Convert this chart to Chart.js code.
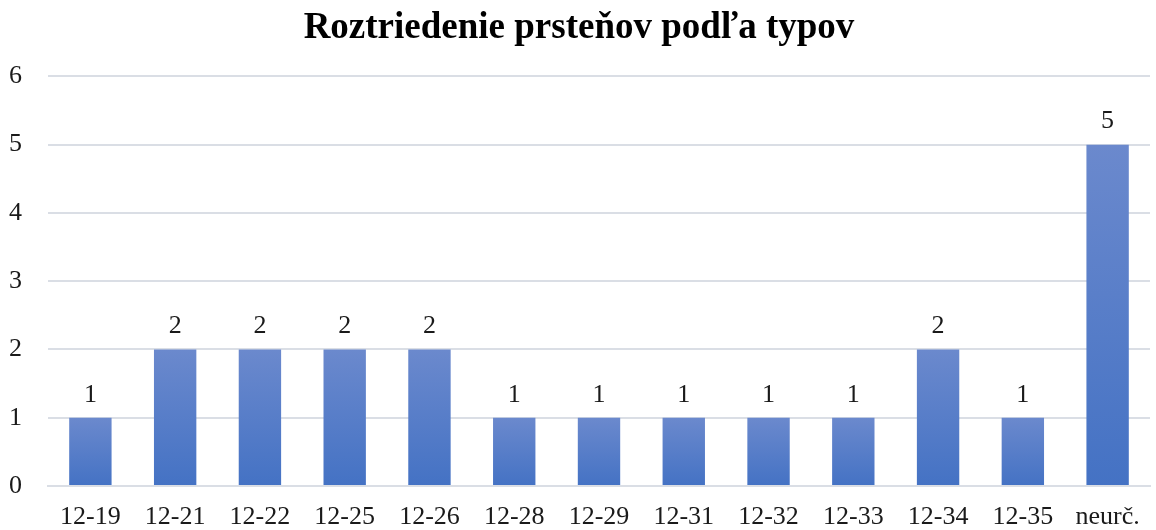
<!DOCTYPE html>
<html>
<head>
<meta charset="utf-8">
<script src="https://cdn.jsdelivr.net/npm/chart.js@4"></script>
<style>
  body { margin: 0; background: #fff; }
  #wrap { width: 1156px; height: 530px; }
</style>
</head>
<body>
<div id="wrap"><canvas id="bar-chart"></canvas></div>
<script>
const labels = ['12-19', '12-21', '12-22', '12-25', '12-26', '12-28', '12-29', '12-31', '12-32', '12-33', '12-34', '12-35', 'neurč.'];
const counts = [1, 2, 2, 2, 2, 1, 1, 1, 1, 1, 2, 1, 5];
const yTicks = [0, 1, 2, 3, 4, 5, 6];

const serif = "'Liberation Serif', 'Times New Roman', serif";

// gradient per bar, lighter on top
function barFill(ctx) {
  const chart = ctx.chart;
  const y = chart.scales.y;
  if (!y || ctx.dataIndex === undefined) return '#4472c4';
  const top = y.getPixelForValue(counts[ctx.dataIndex]);
  const bottom = y.getPixelForValue(0);
  if (!isFinite(top) || !isFinite(bottom)) return '#4472c4';
  const g = chart.ctx.createLinearGradient(0, top, 0, bottom);
  g.addColorStop(0, '#6b89cd');
  g.addColorStop(1, '#4472c4');
  return g;
}

const valueLabels = {
  id: 'valueLabels',
  afterDatasetsDraw(chart) {
    const c = chart.ctx;
    const meta = chart.getDatasetMeta(0);
    c.save();
    c.font = '26px ' + serif;
    c.fillStyle = '#1a1a1a';
    c.textAlign = 'center';
    c.textBaseline = 'bottom';
    meta.data.forEach((bar, i) => {
      c.fillText(String(counts[i]), bar.x, bar.y - 10);
    });
    c.restore();
  }
};

new Chart(document.getElementById('bar-chart'), {
  type: 'bar',
  data: {
    labels: labels,
    datasets: [{
      label: 'Počet',
      data: counts,
      backgroundColor: barFill,
      barPercentage: 0.5,
      categoryPercentage: 1
    }]
  },
  plugins: [valueLabels],
  options: {
    responsive: true,
    maintainAspectRatio: false,
    animation: false,
    layout: { padding: { left: 8, right: 6, top: 0, bottom: 0 } },
    plugins: {
      legend: { display: false },
      tooltip: { enabled: false },
      title: {
        display: true,
        text: 'Roztriedenie prsteňov podľa typov',
        color: '#000',
        font: { family: serif, size: 37, weight: 'bold' },
        padding: { top: 6, bottom: 26 }
      }
    },
    scales: {
      x: {
        afterFit(axis) { axis.height = 44; },
        grid: { display: false, drawTicks: false },
        border: { display: true, color: '#dadee5', width: 2 },
        ticks: {
          color: '#1a1a1a',
          font: { family: serif, size: 26 },
          padding: 16,
          maxRotation: 0,
          autoSkip: false
        }
      },
      y: {
        min: 0,
        max: 6,
        afterBuildTicks(axis) { axis.ticks = yTicks.map(v => ({ value: v })); },
        afterFit(axis) { axis.width = 40; },
        grid: { color: '#dadee5', lineWidth: 2, drawTicks: false },
        border: { display: false },
        ticks: {
          color: '#1a1a1a',
          font: { family: serif, size: 26 },
          padding: 26
        }
      }
    }
  }
});
</script>
</body>
</html>
